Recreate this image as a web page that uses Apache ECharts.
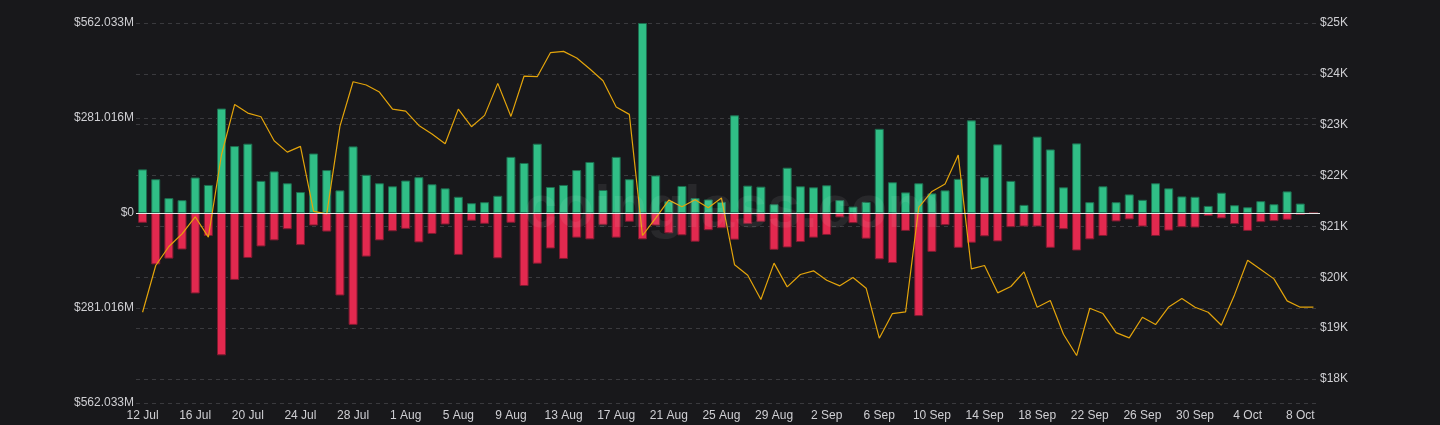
<!DOCTYPE html>
<html>
<head>
<meta charset="utf-8">
<script src="https://cdn.jsdelivr.net/npm/echarts@6/dist/echarts.min.js"></script>
<style>
html,body{margin:0;padding:0;background:#18181b;}
#chart{width:1440px;height:425px;}
</style>
</head>
<body>
<div id="chart"></div>
<script>
const categories = [
'12 Jul','13 Jul','14 Jul','15 Jul','16 Jul','17 Jul','18 Jul','19 Jul','20 Jul','21 Jul','22 Jul','23 Jul','24 Jul','25 Jul','26 Jul','27 Jul','28 Jul','29 Jul','30 Jul','31 Jul',
'1 Aug','2 Aug','3 Aug','4 Aug','5 Aug','6 Aug','7 Aug','8 Aug','9 Aug','10 Aug','11 Aug','12 Aug','13 Aug','14 Aug','15 Aug','16 Aug','17 Aug','18 Aug','19 Aug','20 Aug',
'21 Aug','22 Aug','23 Aug','24 Aug','25 Aug','26 Aug','27 Aug','28 Aug','29 Aug','30 Aug','31 Aug',
'1 Sep','2 Sep','3 Sep','4 Sep','5 Sep','6 Sep','7 Sep','8 Sep','9 Sep','10 Sep','11 Sep','12 Sep','13 Sep','14 Sep','15 Sep','16 Sep','17 Sep','18 Sep','19 Sep','20 Sep',
'21 Sep','22 Sep','23 Sep','24 Sep','25 Sep','26 Sep','27 Sep','28 Sep','29 Sep','30 Sep',
'1 Oct','2 Oct','3 Oct','4 Oct','5 Oct','6 Oct','7 Oct','8 Oct','9 Oct'
];

// values in millions of USD
const longValues = [
129,100,44,38,105,83,309,198,205,95,123,88,62,176,127,67,197,113,88,79,
96,106,85,73,48,29,32,51,166,148,205,77,83,127,151,68,166,100,562,111,
35,80,44,40,33,289,81,78,26,134,79,
76,82,38,19,33,249,91,61,88,58,67,101,274,106,203,95,24,226,188,76,
206,32,79,32,55,39,88,73,49,48,
21,60,23,17,35,26,64,28,2
];

const shortValues = [
-29,-152,-135,-108,-238,-68,-421,-198,-133,-99,-81,-48,-95,-37,-55,-244,-331,-129,-81,-54,
-47,-87,-62,-34,-124,-23,-32,-134,-29,-216,-150,-105,-136,-73,-78,-35,-73,-26,-78,-37,
-60,-66,-85,-51,-45,-79,-32,-26,-109,-102,-86,
-73,-65,-13,-30,-76,-137,-148,-53,-305,-115,-36,-103,-88,-69,-84,-42,-40,-40,-103,-48,
-111,-78,-68,-25,-19,-40,-68,-52,-42,-43,
-9,-16,-33,-53,-27,-24,-20,-6,0
];

const priceValues = [
19312,20231,20605,20854,21189,20789,22409,23399,23229,23157,22684,22460,22573,21294,21248,22966,23845,23780,23642,23307,
23268,22986,22818,22625,23307,22960,23183,23813,23163,23957,23944,24416,24442,24310,24095,23865,23347,23203,20821,21162,
21517,21385,21523,21366,21560,20244,20041,19562,20277,19811,20054,
20126,19942,19831,19995,19785,18801,19286,19319,21372,21687,21832,22402,20165,20231,19693,19818,20106,19411,19542,18880,
18460,19391,19286,18912,18807,19214,19070,19417,19581,19411,
19312,19056,19653,20336,20152,19968,19535,19411,19411
];

const leftTicks = {min: -562.033, max: 562.033, interval: 281.0165};
const rightTicks = {min: 17527, max: 25000};

const chart = echarts.init(document.getElementById('chart'));
const labelColor = '#cfcfd3';
const gridColor = '#3a3a3e';

chart.setOption({
  backgroundColor: '#18181b',
  animation: false,
  textStyle: {fontFamily: 'Liberation Sans, Arial, sans-serif'},
  graphic: [{
    type: 'text',
    left: 524,
    top: 180,
    silent: true,
    z: 10,
    style: {
      text: 'coinglass.com',
      fill: 'rgba(255,255,255,0.07)',
      font: 'bold 60px "Liberation Sans", Arial, sans-serif'
    }
  }],
  grid: {left: 136, right: 120, top: 23, bottom: 22, containLabel: false},
  xAxis: {
    type: 'category',
    data: categories,
    boundaryGap: true,
    axisLine: {show: false},
    axisTick: {show: false},
    axisLabel: {color: labelColor, fontSize: 12, interval: 3, margin: 7},
    splitLine: {show: false}
  },
  yAxis: [{
    type: 'value',
    position: 'left',
    min: leftTicks.min,
    max: leftTicks.max,
    interval: leftTicks.interval,
    axisLine: {show: false},
    axisTick: {show: false},
    axisLabel: {
      color: labelColor, fontSize: 12, margin: 2,
      formatter: function (v) {
        if (Math.abs(v) < 1e-6) return '$0';
        return '$' + (Math.floor(Math.abs(v) * 1000 + 1e-6) / 1000).toFixed(3) + 'M';
      }
    },
    splitLine: {show: true, lineStyle: {color: gridColor, type: [4, 4], width: 1}}
  }, {
    type: 'value',
    position: 'right',
    min: rightTicks.min,
    max: rightTicks.max,
    splitNumber: 7,
    axisLine: {show: false},
    axisTick: {show: false},
    axisLabel: {
      color: labelColor, fontSize: 12, margin: 0, showMinLabel: false,
      formatter: function (v) {
        if (v % 1000 !== 0) return '';
        return '$' + (v / 1000) + 'K';
      }
    },
    splitLine: {show: true, lineStyle: {color: gridColor, type: [4, 4], width: 1}}
  }],
  series: [{
    name: 'Long',
    type: 'bar',
    yAxisIndex: 0,
    data: longValues,
    barWidth: 9,
    barGap: '-100%',
    itemStyle: {color: '#30be86', borderColor: '#1d6d4f', borderWidth: 1},
    z: 2,
    markLine: {
      silent: true,
      symbol: 'none',
      label: {show: false},
      lineStyle: {color: '#e8e8e8', type: 'solid', width: 1},
      data: [{yAxis: 0}]
    }
  }, {
    name: 'Short',
    type: 'bar',
    yAxisIndex: 0,
    data: shortValues,
    barWidth: 9,
    barGap: '-100%',
    itemStyle: {color: '#e2294f', borderColor: '#7d1a30', borderWidth: 1},
    z: 2
  }, {
    name: 'Price',
    type: 'line',
    yAxisIndex: 1,
    data: priceValues,
    symbol: 'none',
    lineStyle: {color: '#e3a40b', width: 1.2},
    z: 4
  }]
});
</script>
</body>
</html>
